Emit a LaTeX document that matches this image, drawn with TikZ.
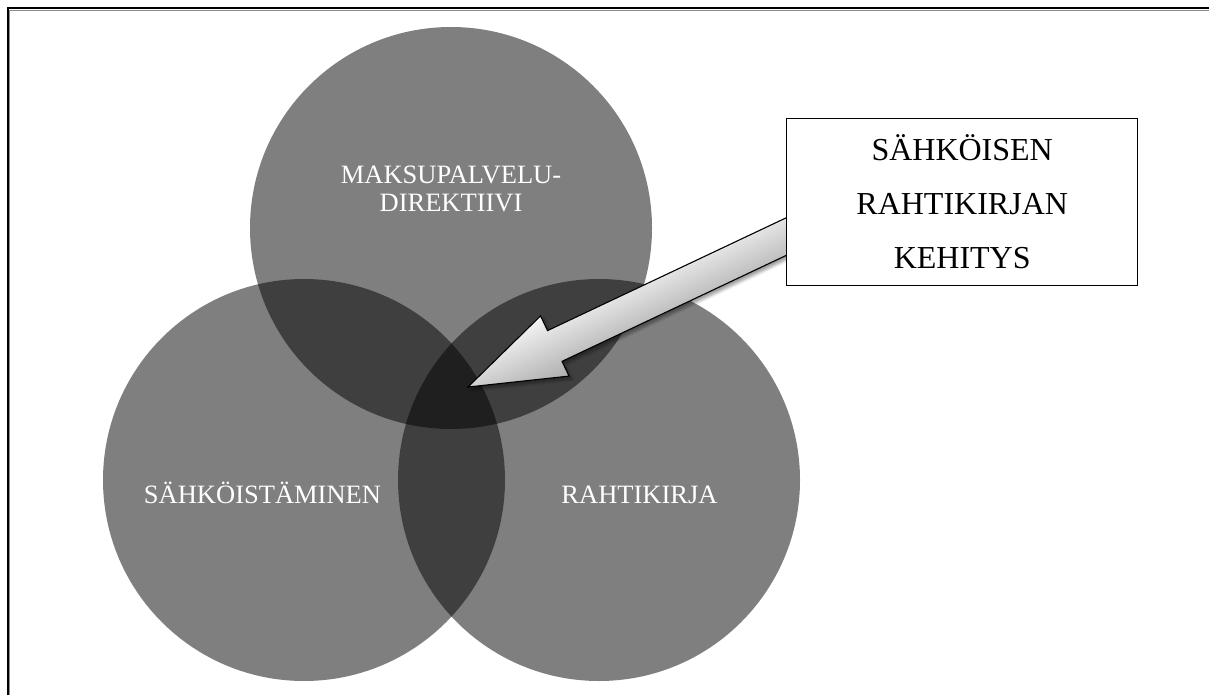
\documentclass[tikz,border=0pt]{standalone}
\usepackage{fontspec}
\setmainfont{Liberation Serif}
\usetikzlibrary{shadows.blur}
\begin{document}
\begin{tikzpicture}[x=1pt, y=-1pt,
  venn/.style={circle, minimum size=402pt, inner sep=0pt, fill=black, fill opacity=0.5},
  vennlabel/.style={text=white, inner sep=0pt, align=center,
    font=\fontsize{26.5}{28}\selectfont},
  calloutarrow/.style={draw=black, line width=1.1pt, line join=miter,
    top color=black!4, bottom color=black!32,
    blur shadow={shadow xshift=1.4pt, shadow yshift=-4pt, shadow blur radius=3pt}},
  titlebox/.style={draw=black, line width=0.8pt, fill=white, inner sep=0pt,
    minimum width=351pt, minimum height=167pt, align=center,
    font=\fontsize{32}{54}\selectfont}]
  \useasboundingbox (0,0) rectangle (1209,695);

  % page frame (only the top and left edges fall inside the picture)
  \draw[black!45, line width=1pt] (9.8,700) -- (9.8,10.8) -- (1215,10.8);
  \draw[black, line width=2pt] (7.5,700) -- (7.5,8.5) -- (1215,8.5);

  % three overlapping sets
  \node[venn] (pay)  at (451,228) {};
  \node[venn] (digi) at (304,480) {};
  \node[venn] (bill) at (599,480) {};

  \node[vennlabel] (payl) at (451,188.5) {MAKSUPALVELU-\\DIREKTIIVI};
  \node[vennlabel, anchor=base] (digil) at (262.5,503) {SÄHKÖISTÄMINEN};
  \node[vennlabel, anchor=base] (billl) at (639.5,503) {RAHTIKIRJA};

  % block arrow pointing into the common area
  \coordinate (core) at (468,387);
  \begin{scope}[transform canvas={shift={(core)}, rotate=25.3}, x=1pt, y=1pt]
    \path[calloutarrow] (0,0) -- (96,33.3) -- (96,17) -- (400,17)
      -- (400,-17) -- (96,-17) -- (96,-33.3) -- cycle;
  \end{scope}

  % title box covering the arrow's tail
  \node[titlebox] (title) at (962.2,201.5) {SÄHKÖISEN\\RAHTIKIRJAN\\KEHITYS};
\end{tikzpicture}
\end{document}
